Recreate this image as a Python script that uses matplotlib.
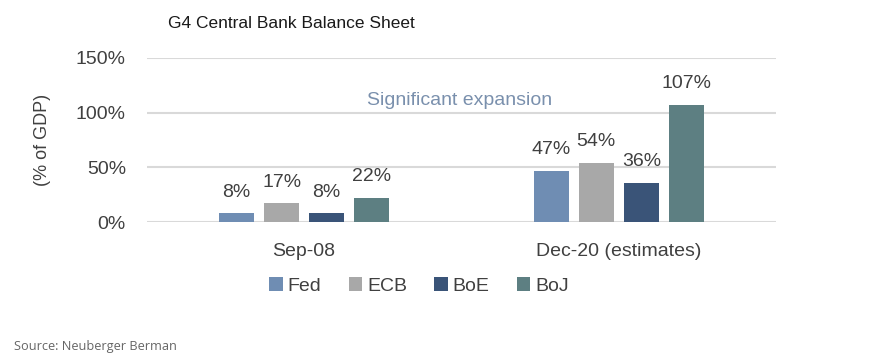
import numpy as np
import matplotlib
matplotlib.use("Agg")
import matplotlib.pyplot as plt

periods = ["Sep-08", "Dec-20 (estimates)"]
banks = ["Fed", "ECB", "BoE", "BoJ"]
fed = [8, 47]
ecb = [17, 54]
boe = [8, 36]
boj = [22, 107]
yticks = [0, 50, 100, 150]
colores = ["#6f8db3", "#a8a8a8", "#3a5478", "#5d7f82"]

plt.rcParams["font.family"] = ["Liberation Sans", "DejaVu Sans"]

fig = plt.figure(figsize=(8.84, 3.64), dpi=100)
ax = fig.add_axes([0.166, 0.39, 0.712, 0.451])

x = np.arange(len(periods))
paso = 0.143
ancho = 0.112
series = [fed, ecb, boe, boj]
for i, (nombre, valores) in enumerate(zip(banks, series)):
    pos = x + (i - 1.5) * paso
    barras = ax.bar(pos, valores, width=ancho, color=colores[i], label=nombre, zorder=3)
    for b, v in zip(barras, valores):
        ax.annotate(f"{v}%", (b.get_x() + b.get_width() / 2, v),
                    xytext=(0, 12), textcoords="offset points",
                    ha="center", va="baseline", fontsize=14, color="#404040",
                    annotation_clip=False)

ax.set_xlim(-0.5, 1.5)
ax.set_ylim(0, 150)
ax.set_yticks(yticks)
ax.set_yticklabels([f"{t}%" for t in yticks])
ax.set_xticks(x)
ax.set_xticklabels(periods)
ax.tick_params(axis="both", length=0, labelsize=14, colors="#404040")
ax.tick_params(axis="y", pad=15)
ax.tick_params(axis="x", pad=15)
ax.grid(axis="y", color="#d9d9d9", linewidth=1.5, zorder=0)
for s in ax.spines.values():
    s.set_visible(False)

ax.set_ylabel("(% of GDP)", fontsize=13, color="#404040")
ax.yaxis.set_label_coords(-0.152, 0.5)

ax.text(0.495, 111, "Significant expansion", fontsize=14, color="#7a90ad",
        ha="center", va="center")

fig.text(0.19, 0.935, "G4 Central Bank Balance Sheet", fontsize=12.5,
         color="#1a1a1a", ha="left", va="center")

fig.legend(loc="center", bbox_to_anchor=(0.474, 0.214), ncol=4, frameon=False,
           fontsize=14, handlelength=0.7, handleheight=0.7, handletextpad=0.25,
           columnspacing=1.4, labelcolor="#404040")

fig.text(0.016, 0.047, "Source: Neuberger Berman", fontsize=9.2,
         family="Open Sans", color="#666666", ha="left", va="center")

fig.savefig("out.png", dpi=100)
